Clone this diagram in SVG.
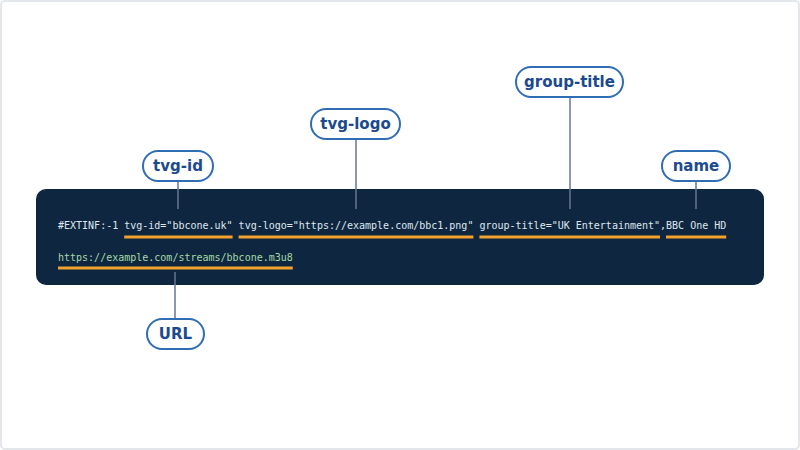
<svg xmlns="http://www.w3.org/2000/svg" width="800" height="450" viewBox="0 0 800 450">
<style>
.pill{fill:#ffffff;stroke:#2f6db5;stroke-width:2}
.pl{font-family:"DejaVu Sans",sans-serif;font-weight:bold;font-size:15px;fill:#1c4a8e;text-anchor:middle;dominant-baseline:central}
.code{font-family:"DejaVu Sans Mono",monospace;font-size:10px;fill:#dfe6ee}
.url{fill:#a6d9a6}
.ul{stroke:#f2a22c;stroke-width:3}
.con{stroke:#66778f;stroke-width:1.5;fill:none}
</style>
<rect x="1" y="1" width="798" height="448" rx="4" fill="#ffffff" stroke="#e3e6ea" stroke-width="2"/>
<g id="code-block">
<rect x="36" y="189" width="728" height="96" rx="10" fill="#0f2640"/>
<text class="code" x="58" y="229" xml:space="preserve">#EXTINF:-1 tvg-id="bbcone.uk" tvg-logo="https://example.com/bbc1.png" group-title="UK Entertainment",BBC One HD</text>
<text class="code url" x="58" y="261">https://example.com/streams/bbcone.m3u8</text>
<line class="ul" x1="124.2" y1="237" x2="232.6" y2="237"/>
<line class="ul" x1="238.6" y1="237" x2="473.4" y2="237"/>
<line class="ul" x1="479.4" y1="237" x2="660" y2="237"/>
<line class="ul" x1="666" y1="237" x2="726.2" y2="237"/>
<line class="ul" x1="58" y1="268" x2="292.8" y2="268"/>
</g>
<g id="connectors">
<line class="con" x1="178" y1="181" x2="178" y2="209"/>
<line class="con" x1="356" y1="139" x2="356" y2="209"/>
<line class="con" x1="570" y1="97" x2="570" y2="209"/>
<line class="con" x1="696" y1="181" x2="696" y2="209"/>
<line class="con" x1="175" y1="272" x2="175" y2="319"/>
</g>
<g id="tvg-id">
<rect class="pill" x="143" y="151" width="70" height="30" rx="15"/>
<text class="pl" x="178" y="166">tvg-id</text>
</g>
<g id="tvg-logo">
<rect class="pill" x="311" y="109" width="89" height="30" rx="15"/>
<text class="pl" x="355.5" y="124">tvg-logo</text>
</g>
<g id="group-title">
<rect class="pill" x="516" y="67" width="107" height="30" rx="15"/>
<text class="pl" x="569.5" y="82">group-title</text>
</g>
<g id="name">
<rect class="pill" x="662" y="151" width="68" height="30" rx="15"/>
<text class="pl" x="696" y="166">name</text>
</g>
<g id="url">
<rect class="pill" x="147" y="319" width="57" height="30" rx="15"/>
<text class="pl" x="175.5" y="334">URL</text>
</g>
</svg>
